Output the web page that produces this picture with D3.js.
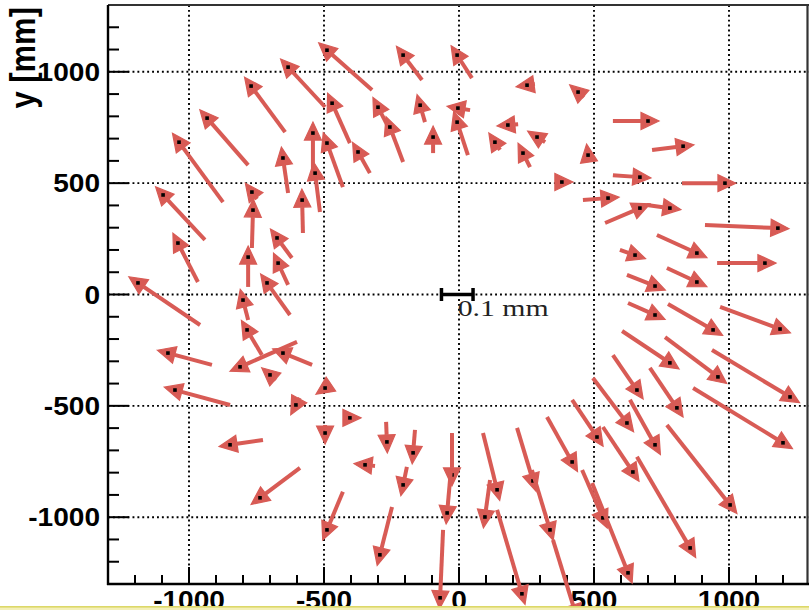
<!DOCTYPE html>
<html>
<head>
<meta charset="utf-8">
<script src="https://cdn.jsdelivr.net/npm/d3@7"></script>
<style>
  html, body { margin: 0; padding: 0; background: #ffffff; }
  svg { display: block; }
</style>
</head>
<body>
<script>
// ---------------- data (mm) ----------------
const xTicks = [-1000, -500, 0, 500, 1000];
const yTicks = [-1000, -500, 0, 500, 1000];
const xTickLabels = ["-1000", "-500", "0", "500", "1000"];
const yTickLabels = ["-1000", "-500", "0", "500", "1000"];
const yTitle = "y [mm]";
const scaleLabel = "0.1 mm";
// arrow head positions (black marker) and arrow tail positions
const posX = [-489,-633,-770,-933,-1037,-1096,-1041,-1189,-1078,-1052,-848,-737,
  -207,-7,252,-470,-300,-256,-144,-4,-7,-96,-541,-489,-374,-652,-533,-581,133,181,237,289,441,478,381,
  -767,-763,-781,-800,-785,-674,-670,-711,-811,-652,-700,-496,-604,-404,-496,
  -267,-170,-348,-207,-489,-293,-26,-44,-70,141,96,233,274,337,430,
  700,830,670,985,552,670,781,1181,652,881,1133,726,881,726,941,1189,781,959,1226,659,807,622,726,511,1200,644,419,1004,856,533,626];
const posY = [1097,1021,936,792,684,447,231,52,-263,-429,-675,-913,
  1075,1075,940,859,841,752,850,837,774,707,725,680,640,613,545,424,684,761,635,707,909,626,505,
  460,379,168,-25,-159,254,141,52,-325,-263,-361,-420,-496,-554,-622,
  -662,-711,-765,-855,-1057,-1169,-810,-981,-1362,-877,-999,-1344,-837,-1057,-1425,
  779,666,527,500,433,388,388,298,177,186,141,38,56,-92,-159,-155,-307,-370,-460,-429,-509,-577,-675,-640,-666,-797,-752,-945,-1138,-1003,-1250];
const fromX = [-322,-496,-644,-781,-874,-941,-967,-959,-915,-848,-726,-589,
  -137,48,281,-404,-256,-207,-126,41,33,-96,-541,-430,-330,-633,-515,-578,152,219,263,319,463,481,359,
  -748,-767,-781,-781,-730,-619,-633,-626,-600,-544,-678,-474,-590,-422,-496,
  -270,-163,-311,-193,-430,-248,-26,-30,-59,89,115,141,215,270,348,
  570,715,570,826,459,541,696,911,596,733,956,622,770,626,774,967,604,763,937,570,707,496,633,419,867,533,326,770,659,456,493];
const fromY = [918,842,729,581,415,245,56,-137,-316,-496,-653,-779,
  963,972,945,680,738,595,774,828,626,635,559,482,545,456,370,276,649,765,572,684,886,599,505,
  429,209,34,-114,-272,164,43,-92,-213,-316,-384,-402,-464,-554,-586,
  -572,-608,-770,-774,-886,-954,-622,-788,-1057,-622,-833,-967,-599,-788,-1102,
  779,649,536,500,424,321,402,312,200,267,141,88,119,-38,-43,-56,-164,-191,-249,-272,-330,-375,-473,-473,-420,-595,-550,-586,-729,-788,-846];
// reference bar (0.1 mm displacement) position
const barFrom = [-65, 0];
const barTo = [52, 0];
const barTextPos = [-5, -98];

// ---------------- layout ----------------
const W = 809, H = 610;
const svg = d3.select("body").append("svg").attr("width", W).attr("height", H);
const x = d3.scaleLinear().domain([-1300, 1300]).range([108, 810]);
const y = d3.scaleLinear().domain([-1300, 1300]).range([584, 5]);
const red = "#d85b55";

svg.append("rect").attr("width", W).attr("height", H).attr("fill", "#fff");

// grid
const grid = svg.append("g").attr("stroke", "#000").attr("stroke-width", 1.9)
  .attr("stroke-dasharray", "1.9,3");
grid.selectAll("line.gx").data(xTicks).join("line")
  .attr("x1", d => x(d)).attr("x2", d => x(d)).attr("y1", y(1300)).attr("y2", y(-1300));
grid.selectAll("line.gy").data(yTicks).join("line").attr("class", "gy")
  .attr("y1", d => y(d)).attr("y2", d => y(d)).attr("x1", x(-1300)).attr("x2", x(1300));

// frame top/right
svg.append("line").attr("x1", x(-1300)).attr("x2", W).attr("y1", y(1300)).attr("y2", y(1300))
  .attr("stroke", "#333").attr("stroke-width", 2.2);
svg.append("line").attr("x1", W - 1.5).attr("x2", W - 1.5).attr("y1", y(1300)).attr("y2", y(-1300))
  .attr("stroke", "#333").attr("stroke-width", 2.2);

// axes (ticks inside)
const minor = d3.range(-1200, 1300, 100);
const gy = svg.append("g").attr("transform", `translate(${x(-1300)},0)`);
gy.append("line").attr("x1", 0).attr("x2", 0).attr("y1", y(1300)).attr("y2", y(-1300) + 1)
  .attr("stroke", "#000").attr("stroke-width", 2.4);
gy.selectAll("line.t").data(minor).join("line").attr("class", "t")
  .attr("x1", 0).attr("x2", d => d % 500 === 0 ? 21 : 11)
  .attr("y1", d => y(d)).attr("y2", d => y(d)).attr("stroke", "#000").attr("stroke-width", 2);
const gx = svg.append("g").attr("transform", `translate(0,${y(-1300)})`);
gx.append("line").attr("x1", x(-1300) - 1).attr("x2", x(1300)).attr("y1", 0).attr("y2", 0)
  .attr("stroke", "#000").attr("stroke-width", 2.4);
gx.selectAll("line.t").data(minor).join("line").attr("class", "t")
  .attr("y1", 0).attr("y2", d => d % 500 === 0 ? -17 : -9)
  .attr("x1", d => x(d)).attr("x2", d => x(d)).attr("stroke", "#000").attr("stroke-width", 2);

// tick labels
const lblFont = "'Liberation Sans', Arial, Helvetica, sans-serif";
svg.selectAll("text.yl").data(yTicks).join("text").attr("class", "yl")
  .attr("transform", d => `translate(100,${y(d) + 9}) scale(1.1,1)`)
  .attr("text-anchor", "end").attr("font-family", lblFont).attr("font-weight", "bold")
  .attr("font-size", 25.5).attr("fill", "#000")
  .text((d, i) => yTickLabels[i]);
svg.selectAll("text.xl").data(xTicks).join("text").attr("class", "xl")
  .attr("transform", d => `translate(${x(d)},${y(-1300) + 25}) scale(1.1,1)`)
  .attr("text-anchor", "middle").attr("font-family", lblFont).attr("font-weight", "bold")
  .attr("font-size", 25.5).attr("fill", "#000")
  .text((d, i) => xTickLabels[i]);

// y title
svg.append("text")
  .attr("transform", `translate(35,${y(1300) + 2}) scale(1.12,1) rotate(-90)`)
  .attr("text-anchor", "end").attr("font-family", lblFont).attr("font-weight", "bold")
  .attr("font-size", 31).attr("fill", "#000").text(yTitle);

// arrows
const arrows = svg.append("g");
const HEAD_FWD = 11, HEAD_BACK = 7, HEAD_HALF = 8.5;
posX.forEach((_, i) => {
  const hx = x(posX[i]), hy = y(posY[i]);
  const tx = x(fromX[i]), ty = y(fromY[i]);
  let dx = hx - tx, dy = hy - ty;
  const L = Math.hypot(dx, dy) || 1;
  const ux = dx / L, uy = dy / L, nx = -uy, ny = ux;
  const g = arrows.append("g");
  const bx = hx - ux * HEAD_BACK, by = hy - uy * HEAD_BACK;
  if (L > HEAD_BACK) {
    g.append("line").attr("x1", tx).attr("y1", ty).attr("x2", bx).attr("y2", by)
      .attr("stroke", red).attr("stroke-width", 4).attr("stroke-linecap", "butt");
  }
  const pts = [[hx + ux * HEAD_FWD, hy + uy * HEAD_FWD],
               [bx + nx * HEAD_HALF, by + ny * HEAD_HALF],
               [bx - nx * HEAD_HALF, by - ny * HEAD_HALF]];
  g.append("polygon").attr("points", pts.map(p => p.join(",")).join(" "))
    .attr("fill", red).attr("stroke", red).attr("stroke-width", 1.2).attr("stroke-linejoin", "miter");
  g.append("rect").attr("x", hx - 1.8).attr("y", hy - 1.8).attr("width", 3.6).attr("height", 3.6)
    .attr("fill", "#000");
});

// reference bar
const bar = svg.append("g").attr("stroke", "#000").attr("stroke-width", 3.5);
bar.append("line").attr("x1", x(barFrom[0])).attr("x2", x(barTo[0]))
  .attr("y1", y(barFrom[1])).attr("y2", y(barTo[1]));
[barFrom, barTo].forEach(p => {
  bar.append("line").attr("x1", x(p[0])).attr("x2", x(p[0]))
    .attr("y1", y(p[1]) - 6.5).attr("y2", y(p[1]) + 6.5);
});
svg.append("text").attr("x", x(barTextPos[0])).attr("y", y(barTextPos[1]))
  .attr("font-family", "'Liberation Serif', 'Times New Roman', serif").attr("font-size", 24)
  .attr("textLength", 91).attr("lengthAdjust", "spacingAndGlyphs")
  .attr("fill", "#222").text(scaleLabel);

// bottom strip
svg.append("rect").attr("x", 0).attr("y", 606).attr("width", W).attr("height", 4).attr("fill", "#f4f0b8");
svg.append("rect").attr("x", 0).attr("y", 606).attr("width", W).attr("height", 1.6).attr("fill", "#dcd868");
</script>
</body>
</html>
